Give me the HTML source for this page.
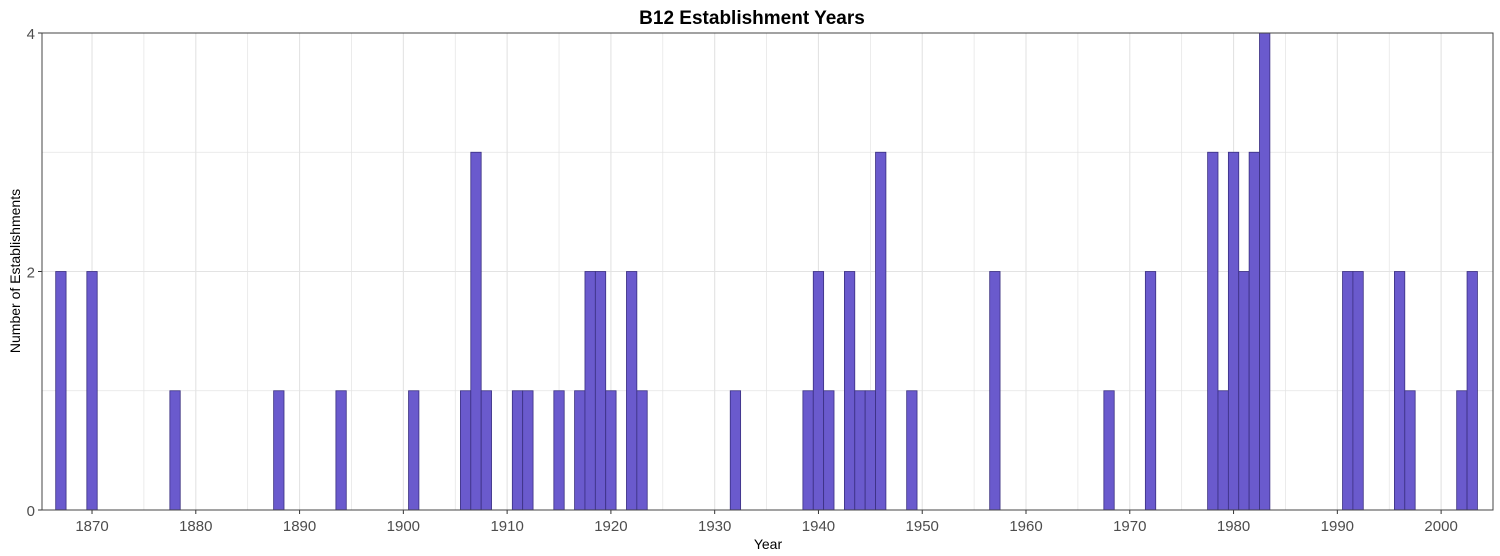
<!DOCTYPE html>
<html><head><meta charset="utf-8"><style>
body{margin:0;background:#fff;font-family:"Liberation Sans",sans-serif;}
svg{display:block}
</style></head><body>
<svg id="chart" width="1500" height="556">
<text x="752" y="24" text-anchor="middle" font-size="19" font-weight="bold" fill="#000">B12 Establishment Years</text>
<text x="768" y="549" text-anchor="middle" font-size="14" fill="#000">Year</text>
<text transform="translate(20,271) rotate(-90)" text-anchor="middle" font-size="14" fill="#000">Number of Establishments</text>
<g id="grid"></g><g id="bars"></g><g id="axes"></g>
<rect x="42" y="33" width="1451" height="477" fill="none" stroke="#444" stroke-width="1"/>
</svg>
<script>
const years=[1867,1870,1878,1888,1894,1901,1906,1907,1908,1911,1912,1915,1917,1918,1919,1920,1922,1923,1932,1939,1940,1941,1943,1944,1945,1946,1949,1957,1968,1972,1978,1979,1980,1981,1982,1983,1991,1992,1996,1997,2002,2003];
const counts=[2,2,1,1,1,1,1,3,1,1,1,1,1,2,2,1,2,1,1,1,2,1,2,1,1,3,1,2,1,2,3,1,3,2,3,4,2,2,2,1,1,2];
const xTicks=[1870,1880,1890,1900,1910,1920,1930,1940,1950,1960,1970,1980,1990,2000];
const yTicks=[0,2,4];
const NS="http://www.w3.org/2000/svg";
const x0=42,x1=1493,y0=510,y1=33,ymin=1865.18,ymax=2005.0;
const xs=v=>x0+(v-ymin)/(ymax-ymin)*(x1-x0);
const ys=v=>y0-v/4*(y0-y1);
const grid=document.getElementById('grid'),bars=document.getElementById('bars'),axes=document.getElementById('axes');
function line(p,a,b,c,d,col,w){const l=document.createElementNS(NS,'line');l.setAttribute('x1',a);l.setAttribute('y1',b);l.setAttribute('x2',c);l.setAttribute('y2',d);l.setAttribute('stroke',col);l.setAttribute('stroke-width',w);p.appendChild(l);return l;}
for(let t=1865;t<=2005;t+=5){const X=xs(t);if(X<x0||X>x1)continue;const l=line(grid,X,y1,X,y0,'#e3e3e3',t%10?0.7:1.1);

}
for(let v=0;v<=4;v++){const l=line(grid,x0,ys(v),x1,ys(v),'#e3e3e3',v%2?0.7:1.1);

}
years.forEach((yr,i)=>{const r=document.createElementNS(NS,'rect');const w=(x1-x0)/(ymax-ymin);
r.setAttribute('x',xs(yr)-w/2);r.setAttribute('y',ys(counts[i]));r.setAttribute('width',w);r.setAttribute('height',ys(0)-ys(counts[i]));
r.setAttribute('fill','#6a5acd');r.setAttribute('stroke','#3a2f80');r.setAttribute('stroke-width','0.8');


bars.appendChild(r);});
xTicks.forEach(t=>{const X=xs(t);line(axes,X,y0,X,y0+4,'#333',1);const tx=document.createElementNS(NS,'text');tx.setAttribute('x',X);tx.setAttribute('y',y0+21);tx.setAttribute('text-anchor','middle');tx.setAttribute('font-size','15');tx.setAttribute('fill','#4d4d4d');tx.textContent=t;


axes.appendChild(tx);});
yTicks.forEach(v=>{const Y=ys(v);line(axes,x0-4,Y,x0,Y,'#333',1);const tx=document.createElementNS(NS,'text');tx.setAttribute('x',x0-7);tx.setAttribute('y',Y+6);tx.setAttribute('text-anchor','end');tx.setAttribute('font-size','15');tx.setAttribute('fill','#4d4d4d');tx.textContent=v;


axes.appendChild(tx);});
</script>
</body></html>
